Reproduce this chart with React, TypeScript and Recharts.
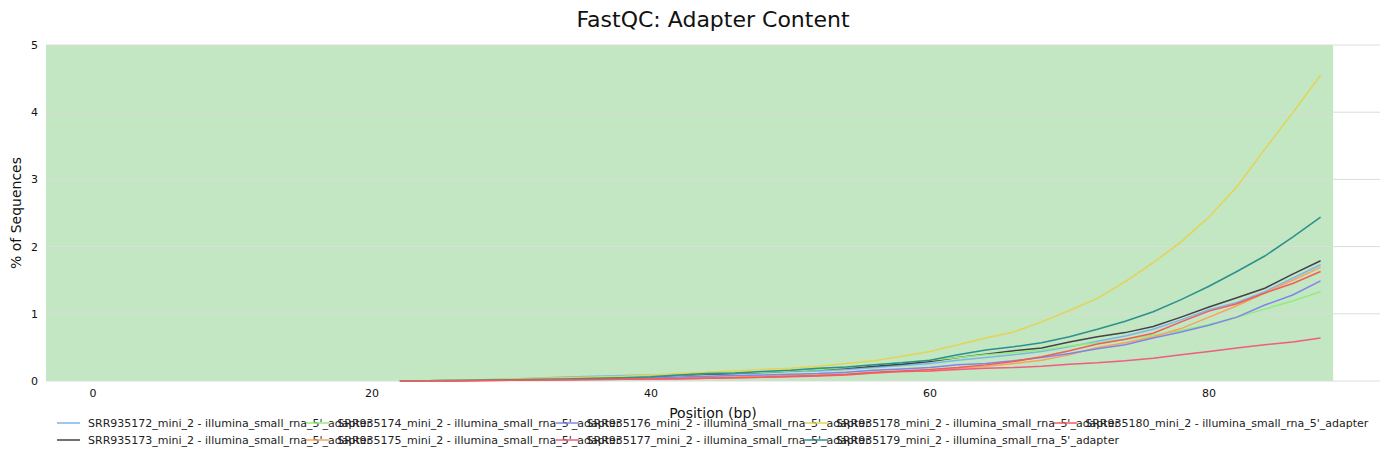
import { LineChart, Line, XAxis, YAxis, ReferenceArea, ReferenceLine } from 'recharts'

const positions = [22, 24, 26, 28, 30, 32, 34, 36, 38, 40, 42, 44, 46, 48, 50, 52, 54, 56, 58, 60, 62, 64, 66, 68, 70, 72, 74, 76, 78, 80, 82, 84, 86, 88]

const srr172 = [0, 0.005, 0.01, 0.02, 0.03, 0.045, 0.06, 0.07, 0.08, 0.09, 0.09, 0.1, 0.11, 0.12, 0.14, 0.15, 0.17, 0.2, 0.23, 0.26, 0.31, 0.35, 0.39, 0.44, 0.51, 0.59, 0.67, 0.77, 0.91, 1.06, 1.17, 1.33, 1.53, 1.73]
const srr173 = [0, 0.003, 0.008, 0.013, 0.02, 0.025, 0.03, 0.04, 0.05, 0.06, 0.085, 0.1, 0.11, 0.13, 0.15, 0.17, 0.19, 0.22, 0.25, 0.29, 0.35, 0.4, 0.45, 0.49, 0.58, 0.66, 0.72, 0.81, 0.95, 1.1, 1.24, 1.38, 1.59, 1.79]
const srr174 = [0, 0.004, 0.008, 0.012, 0.02, 0.03, 0.04, 0.05, 0.06, 0.07, 0.09, 0.11, 0.12, 0.13, 0.15, 0.17, 0.2, 0.24, 0.28, 0.31, 0.35, 0.39, 0.42, 0.46, 0.52, 0.57, 0.62, 0.68, 0.75, 0.84, 0.95, 1.07, 1.19, 1.33]
const srr175 = [0, 0.002, 0.005, 0.008, 0.012, 0.017, 0.022, 0.028, 0.034, 0.04, 0.045, 0.05, 0.06, 0.07, 0.08, 0.09, 0.1, 0.12, 0.14, 0.15, 0.19, 0.22, 0.26, 0.31, 0.39, 0.5, 0.57, 0.66, 0.78, 0.95, 1.12, 1.31, 1.5, 1.69]
const srr176 = [0, 0.003, 0.006, 0.01, 0.015, 0.02, 0.028, 0.035, 0.043, 0.05, 0.06, 0.07, 0.08, 0.09, 0.1, 0.11, 0.13, 0.16, 0.18, 0.2, 0.24, 0.26, 0.3, 0.35, 0.41, 0.48, 0.54, 0.64, 0.73, 0.83, 0.95, 1.13, 1.28, 1.49]
const srr177 = [0, 0.002, 0.004, 0.007, 0.01, 0.014, 0.018, 0.022, 0.026, 0.03, 0.035, 0.04, 0.05, 0.055, 0.065, 0.075, 0.09, 0.12, 0.14, 0.15, 0.17, 0.19, 0.2, 0.22, 0.25, 0.27, 0.3, 0.34, 0.39, 0.44, 0.49, 0.54, 0.58, 0.64]
const srr178 = [0, 0.005, 0.01, 0.02, 0.03, 0.04, 0.05, 0.06, 0.07, 0.09, 0.11, 0.13, 0.15, 0.17, 0.19, 0.22, 0.26, 0.3, 0.37, 0.44, 0.54, 0.64, 0.73, 0.88, 1.05, 1.23, 1.48, 1.76, 2.07, 2.44, 2.89, 3.45, 3.99, 4.55]
const srr179 = [0, 0.004, 0.008, 0.015, 0.02, 0.025, 0.03, 0.04, 0.05, 0.065, 0.09, 0.11, 0.12, 0.14, 0.16, 0.19, 0.21, 0.24, 0.27, 0.31, 0.39, 0.46, 0.51, 0.57, 0.66, 0.77, 0.89, 1.03, 1.21, 1.41, 1.63, 1.86, 2.14, 2.44]
const srr180 = [0, 0.002, 0.004, 0.007, 0.01, 0.014, 0.018, 0.022, 0.026, 0.03, 0.035, 0.04, 0.05, 0.055, 0.07, 0.08, 0.1, 0.13, 0.15, 0.17, 0.2, 0.24, 0.29, 0.36, 0.45, 0.55, 0.62, 0.71, 0.88, 1.04, 1.15, 1.31, 1.45, 1.63]

const sample = ['SRR935172', 'SRR935173', 'SRR935174', 'SRR935175', 'SRR935176', 'SRR935177', 'SRR935178', 'SRR935179', 'SRR935180']
const colours = ['#7cb5ec', '#434348', '#90ed7d', '#f7a35c', '#8085e9', '#f15c80', '#e4d354', '#2b908f', '#f45b5b']
const values = [srr172, srr173, srr174, srr175, srr176, srr177, srr178, srr179, srr180]
const yTicks = [0, 1, 2, 3, 4, 5]
const xTicks = [0, 20, 40, 60, 80]

const label = (s: string) => `${s}_mini_2 - illumina_small_rna_5'_adapter`

const data = positions.map((p, i) => {
  const row: Record<string, number> = { pos: p }
  sample.forEach((s, k) => { row[s] = values[k][i] })
  return row
})

const font = '"DejaVu Sans", sans-serif'

export default function App() {
  return (
    <div style={{ position: 'absolute', left: 0, top: 0, width: 1389, height: 460, background: '#fff', fontFamily: font }}>
      <div style={{ position: 'absolute', left: 0, width: 1426, top: 7, textAlign: 'center', fontSize: 22, color: '#111' }}>FastQC: Adapter Content</div>
      <LineChart width={1389} height={460} data={data} margin={{ top: 45, right: 9, left: 0, bottom: 49 }}>
        <ReferenceArea x1={-3.37} x2={88.9} y1={0} y2={5} fill="#c3e6c3" fillOpacity={1} stroke="none" />
        {yTicks.map(t => <ReferenceLine key={t} y={t} stroke="#dcdcdc" strokeWidth={1} />)}
        <XAxis dataKey="pos" type="number" domain={[-3.37, 92.26]} ticks={xTicks} allowDataOverflow axisLine={false} tickLine={false} height={30}
          tick={{ fontSize: 11, fill: '#111', fontFamily: font }} />
        <YAxis domain={[0, 5]} ticks={yTicks} width={46} axisLine={false} tickLine={false}
          tick={{ fontSize: 11, fill: '#111', fontFamily: font }} />
        {sample.map((s, k) => (
          <Line key={s} dataKey={s} stroke={colours[k]} strokeWidth={1.5} dot={false} isAnimationActive={false} type="linear" />
        ))}
      </LineChart>
      <div style={{ position: 'absolute', left: 713, top: 413, transform: 'translate(-50%,-50%)', fontSize: 14, color: '#111', whiteSpace: 'nowrap' }}>Position (bp)</div>
      <div style={{ position: 'absolute', left: 16, top: 213, transform: 'translate(-50%,-50%) rotate(-90deg)', fontSize: 14, color: '#111', whiteSpace: 'nowrap' }}>% of Sequences</div>
      {sample.map((s, k) => {
        const col = Math.floor(k / 2)
        const row = k % 2
        const left = 57 + col * 249.3
        const top = 423 + row * 17
        return (
          <div key={s} style={{ position: 'absolute', left, top: top - 7, height: 14, display: 'flex', alignItems: 'center', whiteSpace: 'nowrap', fontSize: 11, color: '#222' }}>
            <svg width={24} height={14} style={{ marginRight: 7 }}><line x1={0} y1={7} x2={23} y2={7} stroke={colours[k]} strokeWidth={1.5} /></svg>
            <span>{label(s)}</span>
          </div>
        )
      })}
    </div>
  )
}
